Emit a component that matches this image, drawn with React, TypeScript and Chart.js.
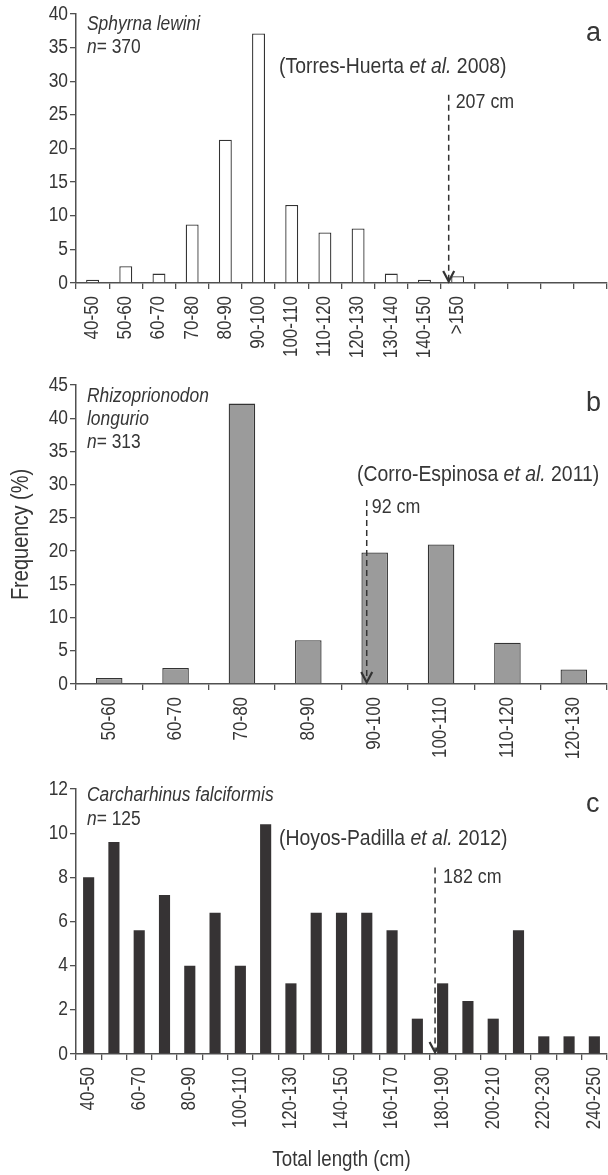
import React, { useEffect, useRef } from 'react';
import { Chart, registerables } from 'chart.js';

Chart.register(...registerables);

// ---------- data ----------
const labelsA = ['40-50', '50-60', '60-70', '70-80', '80-90', '90-100', '100-110', '110-120', '120-130', '130-140', '140-150', '>150', '', '', '', ''];
const valuesA = [0.5, 2.5, 1.4, 8.7, 21.3, 37.1, 11.6, 7.5, 8.1, 1.4, 0.5, 1.0, null, null, null, null];

const labelsB = ['50-60', '60-70', '70-80', '80-90', '90-100', '100-110', '110-120', '120-130'];
const valuesB = [0.9, 2.4, 42.2, 6.6, 19.8, 21.0, 6.2, 2.2];

const labelsC = ['40-50', '50-60', '60-70', '70-80', '80-90', '90-100', '100-110', '110-120', '120-130', '130-140', '140-150', '150-160', '160-170', '170-180', '180-190', '190-200', '200-210', '210-220', '220-230', '230-240', '240-250'];
const valuesC = [8, 9.6, 5.6, 7.2, 4, 6.4, 4, 10.4, 3.2, 6.4, 6.4, 6.4, 5.6, 1.6, 3.2, 2.4, 1.6, 5.6, 0.8, 0.8, 0.8];

// y-axis ranges [max, step]
const yRangeA = [40, 5];
const yRangeB = [45, 5];
const yRangeC = [12, 2];

// maturity markers: [slot position along the category axis, top value, label]
const maturityA: [number, number, string] = [11.23, 28, '207 cm'];
const maturityB: [number, number, string] = [4.38, 27.7, '92 cm'];
const maturityC: [number, number, string] = [14.2, 8.45, '182 cm'];

// ---------- style ----------
const FONT = "'Liberation Sans', Arial, Helvetica, sans-serif";
const TEXT = '#363636';
const AXIS = '#505050';
const K = 0.87; // horizontal condensing of the (Helvetica-Narrow-like) lettering
let squeeze = true;

function patchCtx(ctx: any) {
  if (!ctx || ctx.__condensed) return;
  ctx.__condensed = true;
  const orig = ctx.fillText;
  ctx.fillText = function (text: string, x: number, y: number, maxWidth?: number) {
    if (!squeeze) {
      return maxWidth === undefined ? orig.call(this, text, x, y) : orig.call(this, text, x, y, maxWidth);
    }
    this.save();
    this.translate(x, y);
    this.scale(K, 1);
    orig.call(this, text, 0, 0);
    this.restore();
  };
}

type Seg = { t: string; i?: boolean };

interface PanelSpec {
  labels: string[];
  values: (number | null)[];
  yRange: number[];
  fill: string;
  border: string;
  borderWidth: number;
  barPct: number;
  top: number;
  height: number;
  areaTop: number;
  areaBottom: number;
  species: Seg[][];
  speciesBase: number[];
  ref: Seg[];
  refX: number;
  refY: number;
  maturity: [number, number, string];
  matDx: number;
  matDy: number;
  letter: string;
  letterY: number;
  yTitle?: string;
  xTitle?: string;
  skipEvery?: number;
}

const specs: PanelSpec[] = [
  {
    labels: labelsA, values: valuesA, yRange: yRangeA,
    fill: '#ffffff', border: '#333333', borderWidth: 1.3, barPct: 0.39,
    top: 0, height: 400, areaTop: 14, areaBottom: 283,
    species: [[{ t: 'Sphyrna lewini', i: true }], [{ t: 'n', i: true }, { t: '= 370' }]],
    speciesBase: [29.5, 53],
    ref: [{ t: '(Torres-Huerta ' }, { t: 'et al.', i: true }, { t: ' 2008)' }],
    refX: 279, refY: 67,
    maturity: maturityA, matDx: 7, matDy: 8,
    letter: 'a', letterY: 40.5,
  },
  {
    labels: labelsB, values: valuesB, yRange: yRangeB,
    fill: '#9b9b9b', border: '#333333', borderWidth: 1.3, barPct: 0.4,
    top: 360, height: 420, areaTop: 25, areaBottom: 324,
    species: [[{ t: 'Rhizoprionodon', i: true }], [{ t: 'longurio', i: true }], [{ t: 'n', i: true }, { t: '= 313' }]],
    speciesBase: [41.5, 64.5, 88],
    ref: [{ t: '(Corro-Espinosa ' }, { t: 'et al.', i: true }, { t: ' 2011)' }],
    refX: 357, refY: 115,
    maturity: maturityB, matDx: 5, matDy: 7,
    letter: 'b', letterY: 50.5,
    yTitle: 'Frequency (%)',
  },
  {
    labels: labelsC, values: valuesC, yRange: yRangeC,
    fill: '#363334', border: '#363334', borderWidth: 0, barPct: 0.44,
    top: 740, height: 435, areaTop: 49, areaBottom: 314,
    species: [[{ t: 'Carcharhinus falciformis', i: true }], [{ t: 'n', i: true }, { t: '= 125' }]],
    speciesBase: [61, 85],
    ref: [{ t: '(Hoyos-Padilla ' }, { t: 'et al.', i: true }, { t: ' 2012)' }],
    refX: 279, refY: 99,
    maturity: maturityC, matDx: 8, matDy: 10,
    letter: 'c', letterY: 71.5,
    xTitle: 'Total length (cm)',
    skipEvery: 2,
  },
];

function drawSegs(ctx: CanvasRenderingContext2D, segs: Seg[], x: number, y: number, size: number) {
  let cx = x;
  for (const s of segs) {
    ctx.font = `${s.i ? 'italic ' : ''}${size}px ${FONT}`;
    ctx.fillText(s.t, cx, y);
    cx += ctx.measureText(s.t).width * K;
  }
}

function Panel({ spec }: { spec: PanelSpec }) {
  const ref = useRef<HTMLCanvasElement>(null);

  useEffect(() => {
    const canvas = ref.current;
    if (!canvas) return;
    patchCtx(canvas.getContext('2d'));

    const annot = {
      id: 'annot' + spec.letter,
      afterDraw(chart: any) {
        const ctx: CanvasRenderingContext2D = chart.ctx;
        const xs = chart.scales.x;
        const ys = chart.scales.y;
        ctx.save();
        // maturity arrow
        const [slot, topVal, lab] = spec.maturity;
        const ax = xs.getPixelForValue(slot - 0.5);
        const y0 = ys.getPixelForValue(0);
        const y1 = ys.getPixelForValue(topVal);
        ctx.strokeStyle = '#333333';
        ctx.lineWidth = 1.5;
        ctx.setLineDash([6, 4]);
        ctx.beginPath();
        ctx.moveTo(ax, y1);
        ctx.lineTo(ax, y0 - 3);
        ctx.stroke();
        ctx.setLineDash([]);
        ctx.lineWidth = 2.2;
        ctx.lineJoin = 'miter';
        ctx.beginPath();
        ctx.moveTo(ax - 5.5, y0 - 12);
        ctx.lineTo(ax, y0 - 1.5);
        ctx.lineTo(ax + 5.5, y0 - 12);
        ctx.stroke();

        ctx.fillStyle = TEXT;
        ctx.textAlign = 'left';
        ctx.textBaseline = 'middle';
        ctx.font = `20.5px ${FONT}`;
        ctx.fillText(lab, ax + spec.matDx, y1 + spec.matDy);

        // reference
        drawSegs(ctx, spec.ref, spec.refX, spec.refY, 22.3);

        // species
        ctx.textBaseline = 'alphabetic';
        spec.species.forEach((line, i) => drawSegs(ctx, line, 87, spec.speciesBase[i], 20));

        // panel letter (regular width)
        squeeze = false;
        ctx.font = `27px ${FONT}`;
        ctx.fillText(spec.letter, 586, spec.letterY);
        squeeze = true;
        ctx.restore();
      },
    };

    const chart = new Chart(canvas, {
      type: 'bar',
      data: {
        labels: spec.labels,
        datasets: [
          {
            data: spec.values,
            backgroundColor: spec.fill,
            borderColor: spec.border,
            borderWidth: spec.borderWidth,
            barPercentage: spec.barPct,
            categoryPercentage: 1,
          },
        ],
      },
      options: {
        animation: false,
        responsive: false,
        events: [],
        layout: { padding: { top: spec.areaTop, right: 1, left: 0, bottom: 0 } },
        plugins: { legend: { display: false }, tooltip: { enabled: false }, title: { display: false } },
        scales: {
          x: {
            type: 'category',
            offset: true,
            grid: { offset: true, drawOnChartArea: false, drawTicks: true, tickLength: 6, color: AXIS, lineWidth: 1.3 },
            border: { color: AXIS, width: 1.5 },
            ticks: {
              autoSkip: false,
              minRotation: 90,
              maxRotation: 90,
              padding: 7,
              color: TEXT,
              font: { size: 19.5, family: FONT },
              callback: function (this: any, v: any, i: number) {
                if (spec.skipEvery && i % spec.skipEvery) return '';
                return this.getLabelForValue(v);
              },
            },
            title: {
              display: !!spec.xTitle,
              text: spec.xTitle || '',
              color: TEXT,
              font: { size: 21.5, family: FONT },
              padding: { top: 0, bottom: 2 },
            },
            afterFit: (s: any) => {
              s.height = spec.height - spec.areaBottom;
              s.paddingLeft = 0;
              s.paddingRight = 0;
            },
          },
          y: {
            min: 0,
            max: spec.yRange[0],
            grid: { drawOnChartArea: false, drawTicks: true, tickLength: 6, color: AXIS, lineWidth: 1.3 },
            border: { color: AXIS, width: 1.5 },
            ticks: { stepSize: spec.yRange[1], padding: 2, color: TEXT, font: { size: 20, family: FONT } },
            title: {
              display: !!spec.yTitle,
              text: spec.yTitle || '',
              color: TEXT,
              font: { size: 23, family: FONT },
              padding: { top: 8, bottom: 0 },
            },
            afterFit: (s: any) => {
              s.width = 76;
              s.paddingTop = 0;
              s.paddingBottom = 0;
            },
          },
        },
      } as any,
      plugins: [annot],
    });
    return () => chart.destroy();
  }, [spec]);

  return (
    <canvas
      ref={ref}
      width={608}
      height={spec.height}
      style={{ position: 'absolute', left: 0, top: spec.top, width: 608, height: spec.height }}
    />
  );
}

export default function App() {
  return (
    <div style={{ position: 'absolute', left: 0, top: 0, width: 608, height: 1175, background: '#ffffff' }}>
      {specs.map((s) => (
        <Panel key={s.letter} spec={s} />
      ))}
    </div>
  );
}
